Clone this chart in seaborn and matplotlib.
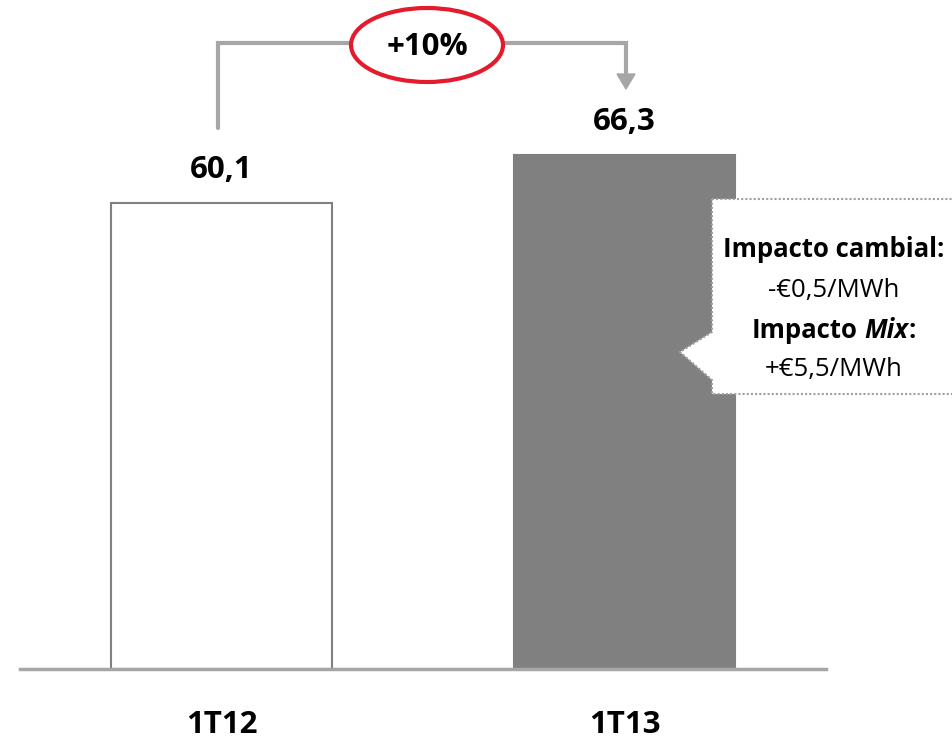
import matplotlib
matplotlib.use("Agg")
import matplotlib.pyplot as plt
import seaborn as sns
import pandas as pd
from matplotlib.patches import Ellipse, Polygon

categories = ["1T12", "1T13"]
values = [60.1, 66.3]
value_labels = ["60,1", "66,3"]
change_label = "+10%"
callout_lines = ["Impacto cambial:", "-€0,5/MWh", "Impacto Mix:", "+€5,5/MWh"]

sns.set_theme(style="white")
plt.rcParams["font.family"] = ["Open Sans", "DejaVu Sans"]

W, H = 952, 745
fig = plt.figure(figsize=(W / 100, H / 100), dpi=100)
ax = fig.add_axes([20 / W, 76 / H, 806 / W, 669 / H])

df = pd.DataFrame({"cat": categories, "val": values})
sns.barplot(data=df, x="cat", y="val", hue="cat", palette=["white", "#808080"],
            width=0.55, legend=False, ax=ax, saturation=1)
for p in ax.patches:
    p.set_edgecolor("#808080")
    p.set_linewidth(1.5)

ax.set_xlim(-0.5, 1.5)
ax.set_ylim(0, 86.28)
for s in ["top", "right", "left"]:
    ax.spines[s].set_visible(False)
ax.spines["bottom"].set_color("#A6A6A6")
ax.spines["bottom"].set_linewidth(2.5)
ax.set_yticks([])
ax.set_xticks([])
ax.set_xlabel("")
ax.set_ylabel("")

def px(x, y):
    return (x / W, 1 - y / H)

LBL = 22.5

# value labels
for i, (v, lab) in enumerate(zip(values, value_labels)):
    ax.annotate(lab, (i, v), xytext=(0, 23.5), textcoords="offset points",
                ha="center", va="center", fontsize=LBL, fontweight="bold", color="black")

# category labels
for i, c in enumerate(categories):
    ax.annotate(c, (i, 0), xytext=(0, -40), textcoords="offset points",
                ha="center", va="center", fontsize=LBL, fontweight="bold", color="black")

# bracket arrow
gray = "#A6A6A6"
xs = [218, 218, 626, 626]
ys = [128, 43, 43, 74]
fig.add_artist(plt.Line2D([x / W for x in xs], [1 - y / H for y in ys],
                          transform=fig.transFigure, color=gray, lw=3, solid_joinstyle="miter"))
fig.add_artist(Polygon([px(617, 74), px(635, 74), px(626, 89)], closed=True,
                       transform=fig.transFigure, facecolor=gray, edgecolor=gray))

# ellipse
fig.add_artist(Ellipse(px(427, 45), 152 / W, 74 / H, transform=fig.transFigure,
                       facecolor="white", edgecolor="#E31B2C", lw=3, zorder=5))
fig.text(427 / W, 1 - 47 / H, change_label, ha="center", va="center", fontsize=LBL,
         fontweight="bold", color="black", zorder=6)

# callout
pts = [(712, 199), (960, 199), (960, 394), (712, 394), (712, 380), (680, 352), (712, 332)]
fig.add_artist(Polygon([px(x, y) for x, y in pts], closed=True, transform=fig.transFigure,
                       facecolor="white", edgecolor="#A0A0A0", lw=1.5, linestyle=(0, (1, 1)),
                       zorder=5))
CF = 18.5
cx = 834
fig.text(cx / W, 1 - 250 / H, callout_lines[0], ha="center", va="center", fontsize=CF,
         fontweight="bold", color="black", zorder=6)
fig.text(cx / W, 1 - 290 / H, callout_lines[1], ha="center", va="center", fontsize=CF,
         color="black", zorder=6)
fig.text(cx / W, 1 - 370 / H, callout_lines[3], ha="center", va="center", fontsize=CF,
         color="black", zorder=6)

# "Impacto Mix:" with italic Mix
renderer = fig.canvas.get_renderer()
def tw(s, **kw):
    t = fig.text(0, 0, s, fontsize=CF, fontweight="bold", **kw)
    w = t.get_window_extent(renderer).width
    t.remove()
    return w

w_first = tw("Impacto I") - tw("I")
w_mix = tw("Mix", fontstyle="italic")
w_col = tw(":")
total = w_first + w_mix + w_col
start = cx - total / 2
yy = 1 - 330 / H
fig.text(start / W, yy, "Impacto", ha="left", va="center", fontsize=CF, fontweight="bold",
         color="black", zorder=6)
fig.text((start + w_first) / W, yy, "Mix", ha="left", va="center", fontsize=CF,
         fontweight="bold", fontstyle="italic", color="black", zorder=6)
fig.text((start + w_first + w_mix) / W, yy, ":", ha="left", va="center", fontsize=CF,
         fontweight="bold", color="black", zorder=6)

fig.savefig("out.png", dpi=100)
